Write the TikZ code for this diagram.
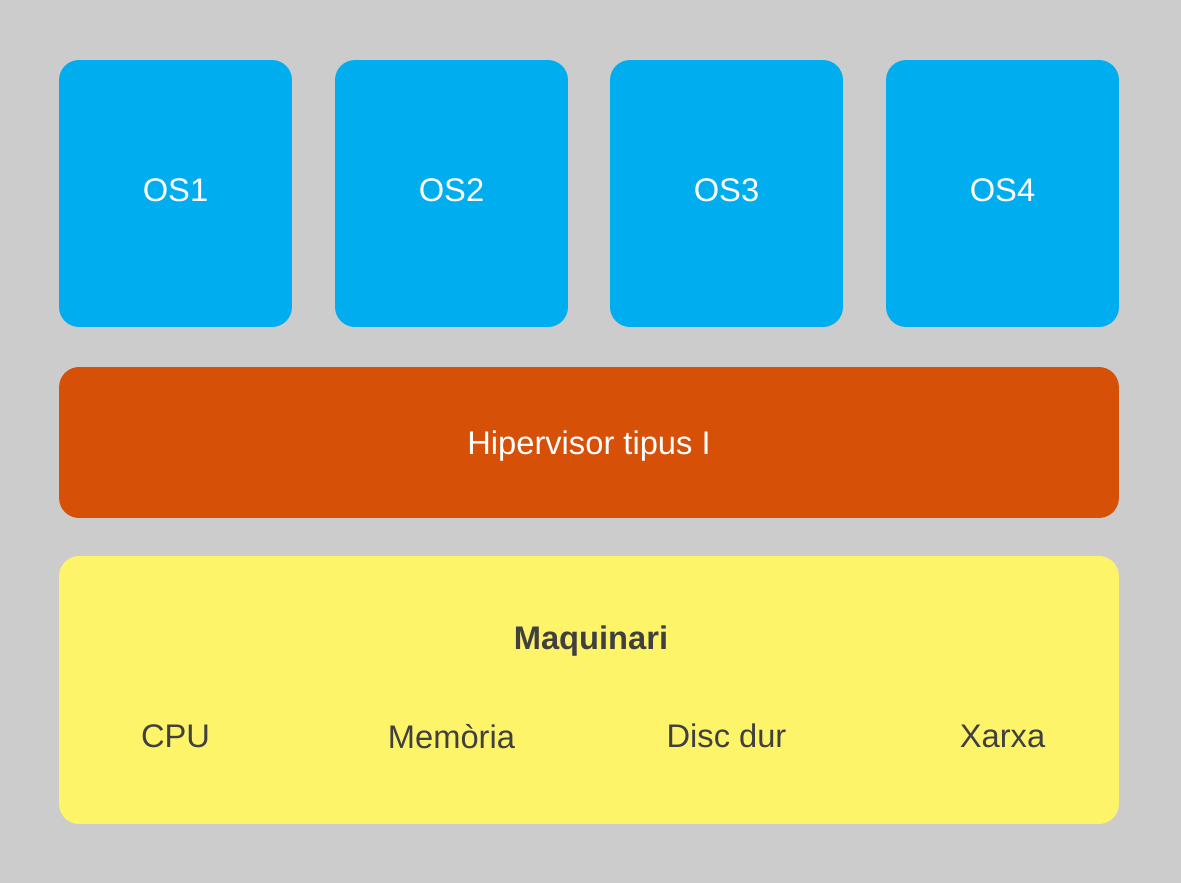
\documentclass[tikz,border=0pt]{standalone}
\usepackage{fontspec}
\setmainfont{Liberation Sans}
\usetikzlibrary{positioning}

\definecolor{fons}{RGB}{204,204,204}
\definecolor{blauos}{RGB}{0,174,239}
\definecolor{taronja}{RGB}{214,80,8}
\definecolor{groc}{RGB}{254,244,106}
\definecolor{textgris}{RGB}{64,64,64}

\tikzset{
    capa/.style={rounded corners=0.4cm, inner sep=0pt, font=\fontsize{18.6}{22}\selectfont},
    osbox/.style={capa, fill=blauos, text=white, text depth=0.12cm, minimum width=4.66cm, minimum height=5.34cm},
    hipbox/.style={capa, fill=taronja, text=white, text depth=0pt, minimum width=21.2cm, minimum height=3.02cm},
    maqbox/.style={capa, fill=groc, minimum width=21.2cm, minimum height=5.36cm},
    peca/.style={text=textgris, inner sep=0pt, text depth=0pt, font=\fontsize{18.6}{22}\selectfont}
}

\begin{document}
\begin{tikzpicture}[x=0.02cm, y=-0.02cm]
    % fons gris
    \fill[fons] (0,0) rectangle (1181,883);
    \useasboundingbox (0,0) rectangle (1181,883);

    % sistemes operatius convidats
    \node[osbox] (os1) at (175.5,193.5) {OS1};
    \node[osbox] (os2) at (451.5,193.5) {OS2};
    \node[osbox] (os3) at (726.5,193.5) {OS3};
    \node[osbox] (os4) at (1002.5,193.5) {OS4};

    % capa del hipervisor
    \node[hipbox] (hip) at (589,442.5) {Hipervisor tipus I};

    % maquinari
    \node[maqbox] (maq) at (589,690) {};
    \node[peca, font=\fontsize{18.6}{22}\selectfont\bfseries] (titol) at (591,638) {Maquinari};
    \node[peca] (cpu) at (175.5,736) {CPU};
    \node[peca] (mem) at (451.5,736) {Memòria};
    \node[peca] (disc) at (726.5,736) {Disc dur};
    \node[peca] (xarxa) at (1002.5,736) {Xarxa};
\end{tikzpicture}
\end{document}
